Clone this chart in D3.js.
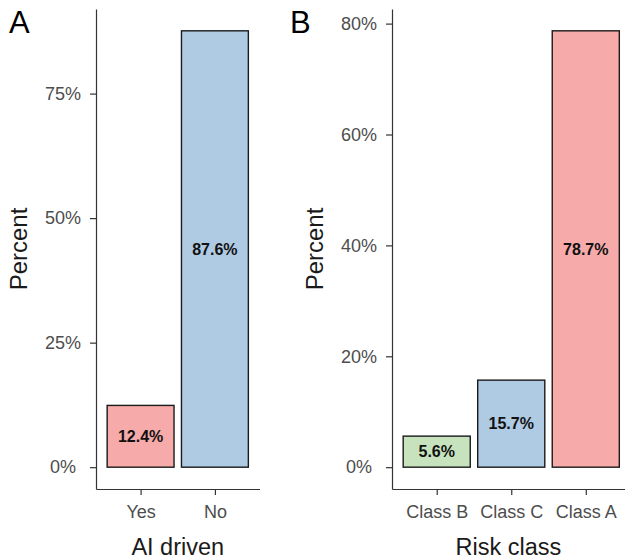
<!DOCTYPE html>
<html><head><meta charset="utf-8">
<script src="https://cdn.jsdelivr.net/npm/d3@7"></script>
<style>
body{margin:0;background:#fff;}
text{font-family:"Liberation Sans",Arial,Helvetica,sans-serif;}
</style></head>
<body><svg id="c" width="625" height="560"></svg>
<script>
const aiCategories = ["Yes","No"];
const aiValues = [12.4, 87.6];
const aiTicks = [0,25,50,75];
const riskCategories = ["Class B","Class C","Class A"];
const riskValues = [5.6, 15.7, 78.7];
const riskTicks = [0,20,40,60,80];
const aiColors = ["#F6AAA9","#AFCBE3"];
const riskColors = ["#C7E3BD","#AFCBE3","#F6AAA9"];

const svg = d3.select("#c");

function panel(opt){
  const g = svg.append("g");
  const maxV = d3.max(opt.values);
  const ex = maxV*0.05;
  const y = d3.scaleLinear().domain([-ex, maxV+ex]).range([opt.bottom, opt.top]);
  const x = d3.scalePoint().domain(opt.cats).range([opt.left, opt.right]).padding(0.6);
  const bw = x.step()*0.9;

  g.selectAll("rect.bar").data(opt.values).join("rect")
    .attr("x",(d,i)=>x(opt.cats[i])-bw/2)
    .attr("y",d=>y(d))
    .attr("width",bw)
    .attr("height",d=>y(0)-y(d))
    .attr("fill",(d,i)=>opt.colors[i])
    .attr("stroke","#1a1a1a").attr("stroke-width",1.4);

  g.selectAll("text.lab").data(opt.values).join("text")
    .attr("x",(d,i)=>x(opt.cats[i]))
    .attr("y",d=>y(d/2))
    .attr("dy","0.36em")
    .attr("text-anchor","middle")
    .attr("font-size",16).attr("font-weight","bold").attr("fill","#111")
    .text(d=>d.toFixed(1)+"%");

  const ya = g.append("g").attr("transform",`translate(${opt.left},0)`)
    .call(d3.axisLeft(y).tickValues(opt.ticks).tickSize(6).tickSizeOuter(0).tickFormat(d=>d+"%"));
  ya.select(".domain").attr("stroke","#333").attr("stroke-width",1.2);
  ya.selectAll(".tick line").attr("stroke","#333").attr("stroke-width",1.2);
  ya.selectAll(".tick text").attr("x",-33).attr("text-anchor","middle")
    .attr("font-size",18).attr("fill","#4d4d4d").attr("font-family",null);

  const xa = g.append("g").attr("transform",`translate(0,${opt.bottom})`)
    .call(d3.axisBottom(x).tickSize(6).tickSizeOuter(0).tickPadding(10));
  xa.select(".domain").attr("stroke","#333").attr("stroke-width",1.2);
  xa.selectAll(".tick line").attr("stroke","#333").attr("stroke-width",1.2);
  xa.selectAll(".tick text").attr("font-size",18).attr("fill","#4d4d4d").attr("font-family",null);

  g.append("text").attr("transform",`translate(${opt.left-78},${(opt.top+opt.bottom)/2}) rotate(-90)`)
    .attr("text-anchor","middle").attr("dy","0.36em").attr("font-size",24).attr("fill","#1a1a1a")
    .text("Percent");
  g.append("text").attr("x",(opt.left+Math.min(opt.right,625))/2).attr("y",555)
    .attr("text-anchor","middle").attr("font-size",23.5).attr("fill","#1a1a1a")
    .text(opt.xtitle);
  g.append("text").attr("x",opt.tagX).attr("y",33)
    .attr("font-size",31).attr("fill","#000")
    .text(opt.tag);
}

panel({cats:aiCategories, values:aiValues, ticks:aiTicks, colors:aiColors,
  left:96, right:259.5, top:9, bottom:489, xtitle:"AI driven", tag:"A", tagX:9});
panel({cats:riskCategories, values:riskValues, ticks:riskTicks, colors:riskColors,
  left:392, right:630.5, top:9, bottom:489, xtitle:"Risk class", tag:"B", tagX:290});
</script></body></html>
